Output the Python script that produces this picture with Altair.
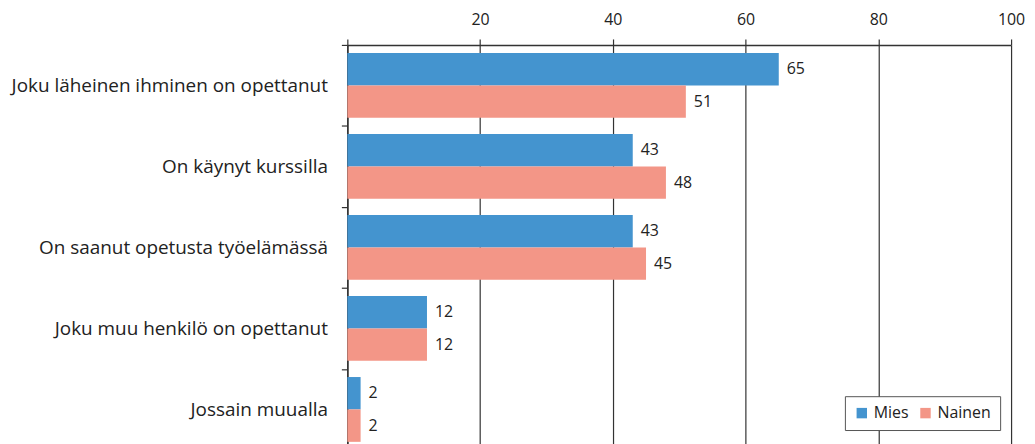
import altair as alt
import pandas as pd

categories = [
    "Joku läheinen ihminen on opettanut",
    "On käynyt kurssilla",
    "On saanut opetusta työelämässä",
    "Joku muu henkilö on opettanut",
    "Jossain muualla",
]
series = ["Mies", "Nainen"]
mies = [65, 43, 43, 12, 2]
nainen = [51, 48, 45, 12, 2]
colors = ["#4494CF", "#F39687"]
x_ticks = [0, 20, 40, 60, 80, 100]

rows = []
for c, m, n in zip(categories, mies, nainen):
    rows.append({"cat": c, "sukupuoli": "Mies", "value": m})
    rows.append({"cat": c, "sukupuoli": "Nainen", "value": n})
df = pd.DataFrame(rows)

FONT = "Open Sans"

y_enc = alt.Y(
    "cat:N",
    sort=categories,
    title=None,
    scale=alt.Scale(paddingInner=0, paddingOuter=0),
    axis=alt.Axis(
        tickBand="extent",
        labelFontSize=19,
        labelFont=FONT,
        labelColor="#222",
        labelPadding=14,
        tickSize=6,
        tickColor="#333",
        domainColor="#333",
        domainWidth=1.5,
        tickWidth=1.2,
        labelLimit=400,
    ),
)
yoff = alt.YOffset(
    "sukupuoli:N",
    sort=series,
    scale=alt.Scale(paddingInner=0, paddingOuter=0.25),
)
x_enc = alt.X(
    "value:Q",
    title=None,
    scale=alt.Scale(domain=[0, 100], nice=False),
    axis=alt.Axis(
        orient="top",
        values=x_ticks,
        labelExpr="datum.value == 0 ? '' : datum.label",
        labelFlush=False,
        grid=True,
        gridColor="#333",
        gridWidth=1.2,
        domainColor="#333",
        domainWidth=1.5,
        tickColor="#333",
        tickSize=6,
        tickWidth=1.2,
        labelFontSize=16,
        labelFont=FONT,
        labelColor="#222",
        labelPadding=12,
    ),
)

bars = alt.Chart(df).mark_bar().encode(
    x=x_enc,
    y=y_enc,
    yOffset=yoff,
    color=alt.Color(
        "sukupuoli:N",
        sort=series,
        scale=alt.Scale(domain=series, range=colors),
        legend=alt.Legend(
            title=None,
            orient="none",
            legendX=500,
            legendY=353,
            direction="horizontal",
            symbolType="square",
            symbolSize=110,
            symbolStrokeWidth=0,
            labelFontSize=16,
            labelFont=FONT,
            labelColor="#222",
            strokeColor="#555",
            padding=9,
            columnPadding=8,
            fillColor="white",
        ),
    ),
)

labels = alt.Chart(df).mark_text(
    align="left", baseline="middle", dx=8, fontSize=16, font=FONT, color="#222"
).encode(
    x="value:Q",
    y=alt.Y("cat:N", sort=categories),
    yOffset=alt.YOffset("sukupuoli:N", sort=series),
    text="value:Q",
)

chart = (
    alt.layer(bars, labels)
    .properties(
        width=667,
        height=407,
        padding={"left": 2, "top": 2, "right": 2, "bottom": 5},
    )
    .configure_view(stroke=None)
)

chart.save("out.html", embed_options={"renderer": "svg", "actions": False})
